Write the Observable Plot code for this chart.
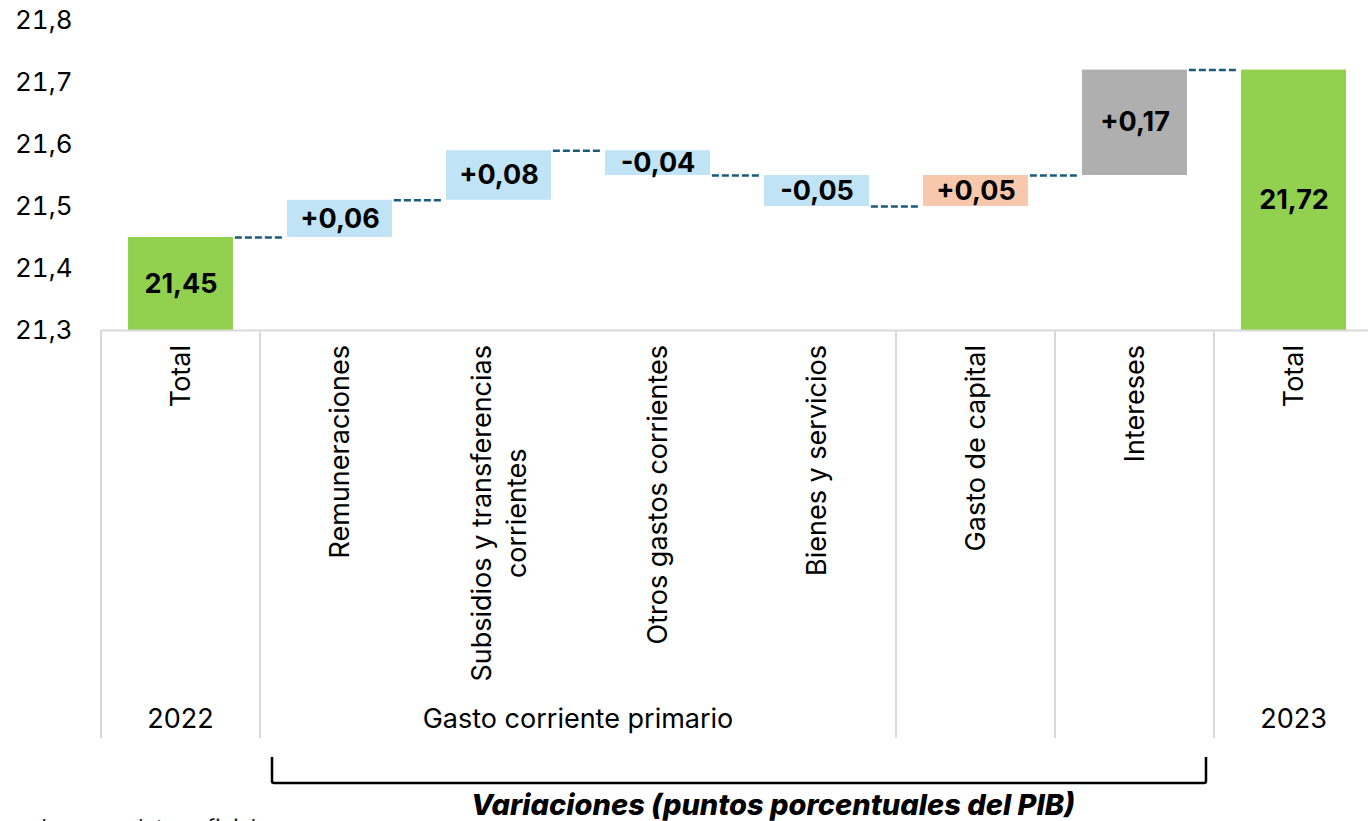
<!DOCTYPE html>
<html>
<head>
<meta charset="utf-8">
<script src="https://cdn.jsdelivr.net/npm/d3@7"></script>
<script src="https://cdn.jsdelivr.net/npm/@observablehq/plot@0.6"></script>
<style>
  html, body { margin: 0; padding: 0; background: #fff; }
  #chart svg { display: block; }
</style>
</head>
<body>
<div id="chart"></div>
<script>
// ---- Data ----
const categorias = ["Total", "Remuneraciones", "Subsidios y transferencias corrientes", "Otros gastos corrientes", "Bienes y servicios", "Gasto de capital", "Intereses", "Total"];
const etiquetasEje = [["Total"], ["Remuneraciones"], ["Subsidios y transferencias", "corrientes"], ["Otros gastos corrientes"], ["Bienes y servicios"], ["Gasto de capital"], ["Intereses"], ["Total"]];
const valores = [21.45, 0.06, 0.08, -0.04, -0.05, 0.05, 0.17, 21.72];
const tipos = ["total", "var", "var", "var", "var", "capital", "intereses", "total"];
const grupoNombres = ["2022", "Gasto corriente primario", "", "", "2023"];
const grupoDesde = [0, 1, 5, 6, 7];
const grupoHasta = [0, 4, 5, 6, 7];
const yTicks = [21.3, 21.4, 21.5, 21.6, 21.7, 21.8];
const yDominio = [21.3, 21.8];
const tituloVariaciones = "Variaciones (puntos porcentuales del PIB)";
const fuente = "Fuente: elaboración propia con base en datos oficiales.";

const colores = {total: "#92D050", var: "#C0E4F5", capital: "#F8C8AC", intereses: "#AFAFAF"};

// ---- Derived table ----
const coma = s => s.replace(".", ",");
let acum = yDominio[0];
const datos = valores.map((v, i) => {
  let y1, y2, label;
  if (tipos[i] === "total") {
    y1 = yDominio[0]; y2 = v; acum = v;
    label = coma(d3.format(".2f")(v));
  } else {
    y1 = acum; y2 = acum + v; acum = y2;
    label = (v >= 0 ? "+" : "-") + coma(d3.format(".2f")(Math.abs(v)));
  }
  return {i, categoria: categorias[i], tipo: tipos[i], y1, y2, fin: y2, label, fill: colores[tipos[i]]};
});
const conectores = datos.slice(0, -1).map(d => ({i: d.i, y: d.fin}));

const hw = 0.33; // half bar width in band units

const plot = Plot.plot({
  width: 1368,
  height: 821,
  marginTop: 20,
  marginBottom: 491,
  marginLeft: 101,
  marginRight: 0,
  style: {fontFamily: "Inter, sans-serif", fontSize: "26px", color: "#000", background: "#fff", overflow: "hidden"},
  x: {type: "linear", domain: [-0.5, 7.5], range: [101, 1373], axis: null},
  y: {domain: yDominio, axis: null},
  color: {type: "identity"},
  marks: [
    Plot.axisY({ticks: yTicks, tickSize: 0, tickPadding: 29, tickFormat: d => coma(d3.format(".1f")(d)), label: null, fill: "#000"}),
    Plot.rect(datos, {x1: d => d.i - hw, x2: d => d.i + hw, y1: "y1", y2: "y2", fill: "fill"}),
    Plot.ruleY(conectores, {x1: d => d.i + hw + 0.012, x2: d => d.i + 1 - hw - 0.025, y: "y", stroke: "#1B5A7A", strokeWidth: 2.5, strokeDasharray: "7,3"}),
    Plot.text(datos, {x: "i", y: d => (d.y1 + d.y2) / 2, text: "label", fontWeight: "bold", fontSize: 27, fill: "#000"}),
    Plot.ruleY([yDominio[0]], {stroke: "#D9D9D9", strokeWidth: 2})
  ]
});

document.getElementById("chart").append(plot);

// ---- Category table below the axis ----
const svg = d3.select(plot);
const X = v => plot.scale("x").apply(v);
const yBase = plot.scale("y").apply(yDominio[0]);
const g = svg.append("g").attr("font-family", "Inter, sans-serif").attr("font-size", 27).attr("fill", "#000");

// separators
const sepXs = grupoDesde.map(d => X(d - 0.5)).concat([X(7.5)]);
g.selectAll("line.sep").data(sepXs).join("line")
  .attr("x1", d => d).attr("x2", d => d)
  .attr("y1", yBase).attr("y2", yBase + 408)
  .attr("stroke", "#D9D9D9").attr("stroke-width", 2);

// rotated category labels
const lineH = 35;
etiquetasEje.forEach((lineas, i) => {
  const lg = g.append("g").attr("transform", `translate(${X(i)},${yBase + 15}) rotate(-90)`);
  const texts = lineas.map((t, k) => lg.append("text")
    .attr("text-anchor", "middle")
    .attr("dominant-baseline", "central")
    .attr("y", (k - (lineas.length - 1) / 2) * lineH)
    .text(t));
  const maxLen = d3.max(texts, t => t.node().getComputedTextLength());
  texts.forEach(t => t.attr("x", -maxLen / 2));
});

// group labels
grupoNombres.forEach((n, k) => {
  if (!n) return;
  g.append("text")
    .attr("x", (X(grupoDesde[k] - 0.5) + X(grupoHasta[k] + 0.5)) / 2)
    .attr("y", yBase + 398)
    .attr("text-anchor", "middle")
    .text(n);
});

// bracket
const bl = X(0.5) + 12, br = X(6.5) - 8;
g.append("path")
  .attr("d", `M${bl},${yBase + 427} L${bl},${yBase + 451} Q${bl},${yBase + 453} ${bl + 2},${yBase + 453} L${br - 2},${yBase + 453} Q${br},${yBase + 453} ${br},${yBase + 451} L${br},${yBase + 427}`)
  .attr("fill", "none").attr("stroke", "#000").attr("stroke-width", 2.5);

g.append("text")
  .attr("x", 773).attr("y", yBase + 485)
  .attr("text-anchor", "middle")
  .attr("font-size", 29)
  .attr("font-weight", 800).attr("font-style", "italic")
  .text(tituloVariaciones);

g.append("text")
  .attr("x", 0).attr("y", yBase + 505)
  .attr("font-size", 22).attr("fill", "#222")
  .text(fuente);
</script>
</body>
</html>
